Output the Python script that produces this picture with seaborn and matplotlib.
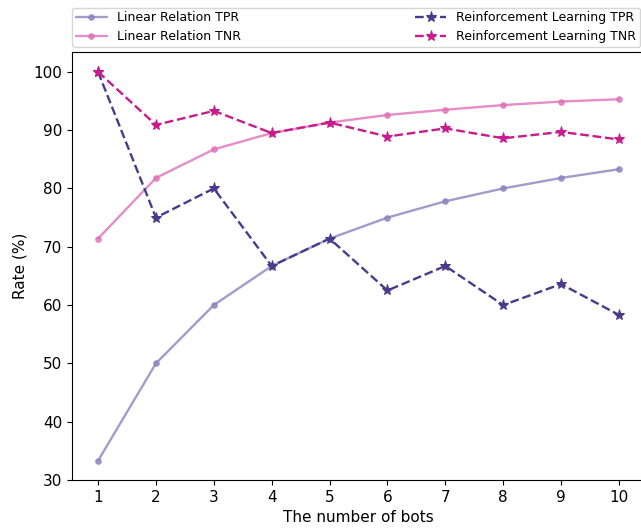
import matplotlib
matplotlib.use('Agg')
import matplotlib.pyplot as plt
import numpy as np
import pandas as pd
import seaborn as sns

sns.set_style('ticks')
plt.rcParams['font.family'] = ['DejaVu Sans']
plt.rcParams['text.color'] = 'black'
plt.rcParams['axes.labelcolor'] = 'black'
plt.rcParams['xtick.color'] = 'black'
plt.rcParams['ytick.color'] = 'black'

bots = [1, 2, 3, 4, 5, 6, 7, 8, 9, 10]
lin_tpr = [33.3, 50.0, 60.0, 66.7, 71.4, 75.0, 77.8, 80.0, 81.8, 83.3]
lin_tnr = [71.4, 81.8, 86.7, 89.5, 91.3, 92.6, 93.5, 94.3, 94.9, 95.3]
rl_tpr = [100.0, 75.0, 80.0, 66.7, 71.4, 62.5, 66.7, 60.0, 63.6, 58.3]
rl_tnr = [100.0, 90.9, 93.3, 89.5, 91.3, 88.9, 90.3, 88.6, 89.7, 88.4]

fig = plt.figure(figsize=(6.41, 5.29), dpi=100)
ax = fig.add_axes([72 / 641, 49 / 529, 573 / 641, 428 / 529])

series = [
    ('Linear Relation TPR', lin_tpr, '#8b82bf', '-', 'o', 4, 0.8),
    ('Linear Relation TNR', lin_tnr, '#e070b8', '-', 'o', 4, 0.8),
    ('Reinforcement Learning TPR', rl_tpr, '#4a3a8c', '--', '*', 8, 1.0),
    ('Reinforcement Learning TNR', rl_tnr, '#c81c8c', '--', '*', 8, 1.0),
]
for name, vals, col, ls, mk, ms, a in series:
    df = pd.DataFrame({'bots': bots, 'rate': vals})
    sns.lineplot(data=df, x='bots', y='rate', ax=ax, color=col, linestyle=ls,
                 marker=mk, markersize=ms, markeredgecolor=col, linewidth=1.7,
                 alpha=a, label=name)

ax.set_xticks(bots)
ax.set_xlim(0.55, 10.45)
ax.set_ylim(30, 103.4)
ax.set_yticks([30, 40, 50, 60, 70, 80, 90, 100])
ax.tick_params(labelsize=11)
ax.set_xlabel('The number of bots', fontsize=11)
ax.set_ylabel('Rate (%)', fontsize=11)
for s in ax.spines.values():
    s.set_color('black')

ax.legend(bbox_to_anchor=(0, 1.012, 568 / 573, 0.1), loc='lower left', ncol=2,
          mode='expand', borderaxespad=0, fontsize=9, handlelength=2.5,
          borderpad=0.3, labelspacing=0.45, edgecolor='#cccccc')

fig.savefig('out.png', dpi=100)
